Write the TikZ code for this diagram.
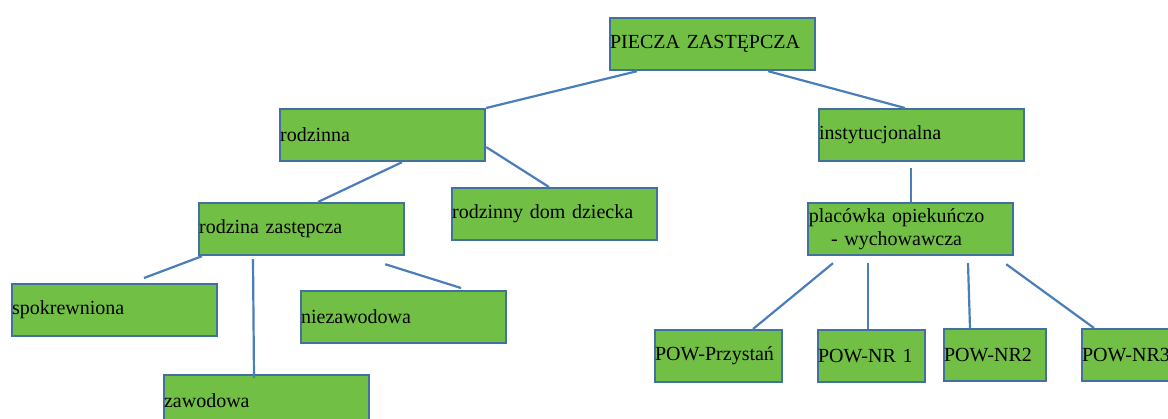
\documentclass[tikz,border=0pt]{standalone}
\usepackage{fontspec}
\setmainfont{Liberation Serif}
\definecolor{boxgreen}{HTML}{71BF44}
\definecolor{boxblue}{HTML}{41719C}
\definecolor{lineblue}{HTML}{4A7EBB}
\begin{document}
\begin{tikzpicture}[x=1pt, y=-1pt,
  box/.style={rectangle, draw=boxblue, fill=boxgreen, line width=2.2pt, inner sep=0pt,
    anchor=north west, text width=205pt, align=left, minimum height=52pt,
    font=\fontsize{20}{23}\selectfont},
  link/.style={draw=lineblue, line width=2.2pt}]
  \useasboundingbox (0,0) rectangle (1168,419);

  \node[box] (pz) at (609,17) {PIECZA ZASTĘPCZA};
  \node[box] (rod) at (279,108) {rodzinna};
  \node[box] (inst) at (818,108) {instytucjonalna};
  \node[box] (rz) at (198,202) {rodzina zastępcza};
  \node[box] (rdd) at (451,187) {rodzinny dom dziecka};
  \node[box] (plac) at (807,202) {\makebox[177pt]{placówka opiekuńczo}\\\makebox[177pt]{- wychowawcza}};
  \node[box] (spok) at (11,283) {spokrewniona};
  \node[box] (niez) at (300,290) {niezawodowa};
  \node[box] (zaw) at (163,374) {zawodowa};
  \node[box, text width=127pt] (przy) at (654,329) {POW-Przystań};
  \node[box, text width=107pt] (nr1) at (817,329) {POW-NR 1};
  \node[box, text width=102pt] (nr2) at (943,328) {POW-NR2};
  \node[box, text width=102pt] (nr3) at (1081,328) {POW-NR3};

  \draw[link] ([xshift=28pt]pz.south west) -- (rod.north east);
  \draw[link] ([xshift=-48pt]pz.south east) -- ([xshift=87pt]inst.north west);

  \draw[link] ([xshift=123pt]rod.south west) -- ([xshift=120pt]rz.north west);
  \draw[link] ([yshift=-12pt]rod.east) -- ([xshift=98pt]rdd.north west);

  \draw[link] ([yshift=-6pt]plac.north |- inst.south) -- (plac.north);

  \draw[link] ([xshift=4pt]rz.south west) -- ([xshift=133pt,yshift=5pt]spok.north west);
  \draw[link] ([xshift=55pt,yshift=-3pt]rz.south west) -- ([xshift=91pt,yshift=-4pt]zaw.north west);
  \draw[link] ([xshift=-20pt,yshift=-8pt]rz.south east) -- ([xshift=161pt,yshift=2pt]niez.north west);

  \draw[link] ([xshift=26pt,yshift=-7pt]plac.south west) -- ([xshift=99pt]przy.north west);
  \draw[link] ([xshift=61pt,yshift=-7pt]plac.south west) -- ([xshift=51pt]nr1.north west);
  \draw[link] ([xshift=161pt,yshift=-7pt]plac.south west) -- ([xshift=27pt]nr2.north west);
  \draw[link] ([xshift=-8pt,yshift=-8pt]plac.south east) -- ([xshift=13pt]nr3.north west);
\end{tikzpicture}
\end{document}
